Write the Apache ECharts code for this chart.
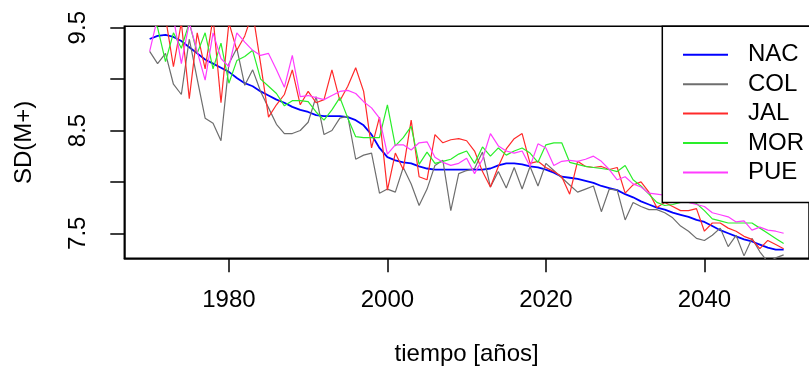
<!DOCTYPE html>
<html>
<head>
<meta charset="utf-8">
<script src="https://cdn.jsdelivr.net/npm/echarts@6/dist/echarts.min.js"></script>
<style>
html,body{margin:0;padding:0;background:#fff;}
#chart{width:809px;height:379px;}
</style>
</head>
<body>
<div id="chart"></div>
<script>
var years = [1970,1971,1972,1973,1974,1975,1976,1977,1978,1979,
1980,1981,1982,1983,1984,1985,1986,1987,1988,1989,
1990,1991,1992,1993,1994,1995,1996,1997,1998,1999,
2000,2001,2002,2003,2004,2005,2006,2007,2008,2009,
2010,2011,2012,2013,2014,2015,2016,2017,2018,2019,
2020,2021,2022,2023,2024,2025,2026,2027,2028,2029,
2030,2031,2032,2033,2034,2035,2036,2037,2038,2039,
2040,2041,2042,2043,2044,2045,2046,2047,2048,2049,2050];

var NAC = [9.39,9.42,9.43,9.41,9.37,9.31,9.25,9.19,9.15,9.11,
9.07,9.01,8.96,8.93,8.88,8.84,8.80,8.77,8.73,8.70,
8.68,8.65,8.64,8.64,8.64,8.63,8.60,8.55,8.46,8.33,
8.24,8.21,8.19,8.18,8.15,8.13,8.12,8.12,8.12,8.12,
8.12,8.12,8.12,8.13,8.16,8.18,8.18,8.17,8.15,8.14,
8.12,8.09,8.05,8.04,8.03,8.01,7.99,7.96,7.94,7.92,
7.88,7.85,7.81,7.78,7.75,7.73,7.70,7.68,7.66,7.63,
7.61,7.57,7.53,7.50,7.47,7.44,7.42,7.39,7.36,7.34,7.34];

var COL = [9.27,9.15,9.25,8.95,8.85,9.39,9.00,8.62,8.57,8.40,
9.15,9.30,8.94,9.09,8.88,8.72,8.56,8.47,8.47,8.50,
8.58,8.83,8.46,8.50,8.62,8.64,8.22,8.26,8.28,7.89,
7.93,7.90,8.14,7.98,7.77,7.93,8.16,8.21,7.72,8.08,
8.11,8.13,8.29,7.95,8.10,7.94,8.14,7.93,8.15,7.96,
8.18,8.11,8.04,7.97,7.90,7.93,7.96,7.71,7.93,7.92,
7.63,7.80,7.76,7.73,7.73,7.70,7.65,7.57,7.52,7.45,
7.43,7.48,7.55,7.37,7.48,7.28,7.45,7.32,7.22,7.26,7.29];

var JAL = [9.60,9.52,9.60,9.12,9.55,8.81,9.45,9.10,9.60,8.77,
9.55,9.28,9.42,9.65,9.15,8.63,8.75,8.85,9.09,8.75,
8.88,8.77,8.80,9.09,8.79,8.93,9.11,8.88,8.33,8.63,
7.92,8.28,8.12,8.60,8.05,8.02,8.46,8.38,8.41,8.42,
8.40,8.30,8.10,7.95,8.15,8.32,8.42,8.47,8.18,8.20,
8.14,8.10,8.05,7.88,8.20,8.15,8.14,8.15,8.12,8.14,
7.89,7.97,8.00,7.90,7.75,7.80,7.76,7.72,7.72,7.74,
7.52,7.60,7.60,7.55,7.52,7.47,7.44,7.35,7.43,7.39,7.35];

var MOR = [9.60,9.50,9.17,9.45,9.30,9.55,9.25,9.45,9.10,9.35,
8.96,9.18,9.22,9.28,9.00,8.93,8.86,8.74,8.79,8.79,
8.78,8.68,8.60,8.70,8.82,8.62,8.44,8.43,8.43,8.43,
8.75,8.35,8.43,8.54,8.17,8.29,8.18,8.20,8.22,8.27,
8.30,8.18,8.34,8.25,8.33,8.26,8.30,8.33,8.28,8.19,
8.36,8.38,8.38,8.19,8.17,8.15,8.14,8.13,8.12,8.10,
8.16,8.02,7.96,7.88,7.80,7.77,7.78,7.80,7.80,7.79,
7.72,7.64,7.62,7.60,7.60,7.60,7.60,7.55,7.50,7.45,7.40];

var PUE = [9.27,9.60,9.55,9.60,9.15,9.55,9.27,8.99,9.45,9.20,
9.12,9.45,9.36,9.28,9.23,9.25,9.09,8.92,9.23,8.83,
8.84,8.82,8.80,8.84,8.88,8.89,8.86,8.78,8.72,8.62,
8.27,8.36,8.36,8.31,8.38,8.39,8.24,8.19,8.16,8.18,
8.23,8.08,8.22,8.47,8.35,8.30,8.28,8.30,8.15,8.37,
8.33,8.16,8.20,8.21,8.20,8.22,8.25,8.20,8.12,8.02,
8.05,7.98,7.95,7.89,7.88,7.87,7.85,7.83,7.80,7.78,
7.76,7.70,7.68,7.66,7.61,7.62,7.53,7.56,7.53,7.52,7.50];

var seriesNames = ['NAC','COL','JAL','MOR','PUE'];
var seriesColors = ['#0000ff','#6e6e6e','#ff2a2a','#2aee2a','#ff3cff'];
var seriesWidths = [1.8,1.2,1.2,1.2,1.2];
var yTicks = [7.5,8.0,8.5,9.0,9.5];
var yTickLabels = [7.5,8.5,9.5];
var xTicks = [1980,2000,2020,2040];
var xTitle = 'tiempo [años]';
var yTitle = 'SD(M+)';

// R-style axis ranges: data range of first series, extended 4%
var yLo = Math.min.apply(null, NAC), yHi = Math.max.apply(null, NAC);
var yPad = (yHi - yLo) * 0.04;
var xLo = years[0], xHi = years[years.length-1];
var xPad = (xHi - xLo) * 0.04;

var allData = [NAC, COL, JAL, MOR, PUE];
var FONT = 'Liberation Sans, Arial, sans-serif';

var chart = echarts.init(document.getElementById('chart'), null, {renderer:'canvas'});
chart.setOption({
  animation: false,
  backgroundColor: '#fff',
  grid: {
    left: 124.3, top: 26.3, width: 695.5, height: 232,
    show: true, borderColor: '#000', borderWidth: 1.5, backgroundColor: 'transparent',
    containLabel: false
  },
  xAxis: {
    type: 'value', min: xLo - xPad, max: xHi + xPad,
    splitLine: {show:false},
    axisLine: {show:true, onZero:false, lineStyle:{color:'#000', width:1.5}},
    axisTick: {show:true, inside:false, length:14, customValues: xTicks, lineStyle:{color:'#000', width:1.5}},
    axisLabel: {show:true, customValues: xTicks, margin: 30, fontSize: 24, fontFamily: FONT, color:'#000',
      formatter: function(v){ return String(Math.round(v)); }},
    name: xTitle, nameLocation: 'middle', nameGap: 84,
    nameTextStyle: {fontSize: 24, fontFamily: FONT, color:'#000'}
  },
  yAxis: {
    type: 'value', min: yLo - yPad, max: yHi + yPad,
    splitLine: {show:false},
    axisLine: {show:true, onZero:false, lineStyle:{color:'#000', width:1.5}},
    axisTick: {show:true, inside:false, length:14, customValues: yTicks, lineStyle:{color:'#000', width:1.5}},
    axisLabel: {show:true, customValues: yTickLabels, rotate: 90, margin: 34, fontSize: 24, fontFamily: FONT, color:'#000',
      formatter: function(v){ return v.toFixed(1); }},
    name: yTitle, nameLocation: 'middle', nameGap: 88, nameRotate: 90,
    nameTextStyle: {fontSize: 24, fontFamily: FONT, color:'#000'}
  },
  legend: {
    show: true, orient: 'vertical', left: 662.3, top: 26.3,
    data: seriesNames,
    itemWidth: 45, itemHeight: 2, itemGap: 5.4,
    padding: [16.5, 80, 18, 20.7],
    backgroundColor: '#fff', borderColor: '#000', borderWidth: 1.5,
    textStyle: {fontSize: 24, fontFamily: FONT, color:'#000', lineHeight: 24, padding:[0,0,0,15]},
    icon: 'rect',
    selectedMode: false
  },
  series: seriesNames.map(function(n, k){
    return {
      name: n, type: 'line', symbol: 'none', showSymbol: false,
      data: years.map(function(y, i){ return [y, allData[k][i]]; }),
      lineStyle: {color: seriesColors[k], width: seriesWidths[k]},
      itemStyle: {color: seriesColors[k]},
      clip: true, z: 2,
      emphasis: {disabled: true}
    };
  })
});
</script>
</body>
</html>
